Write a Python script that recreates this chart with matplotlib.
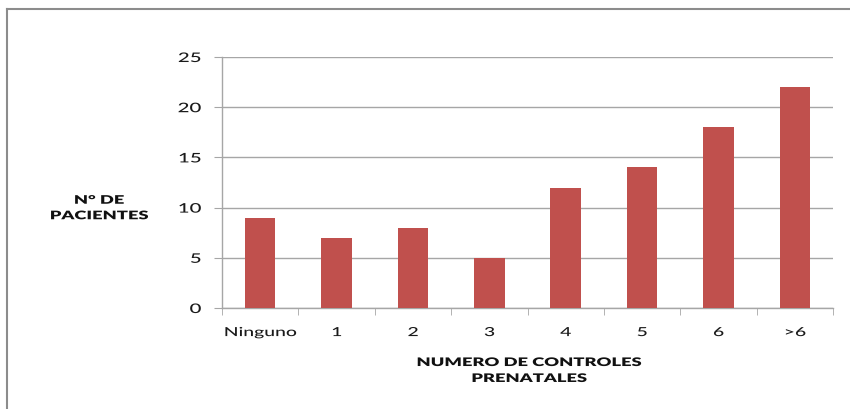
import matplotlib
matplotlib.use("Agg")
import matplotlib.pyplot as plt
from matplotlib.lines import Line2D
from matplotlib.patheffects import AbstractPathEffect
from matplotlib.transforms import Affine2D

categories = ["Ninguno", "1", "2", "3", "4", "5", "6", ">6"]
pacientes = [9, 7, 8, 5, 12, 14, 18, 22]
y_ticks = [0, 5, 10, 15, 20, 25]

bar_color = "#C0504D"
axis_gray = "#A6A6A6"
text_color = "#1A1A1A"
FONT = ["Lato", "DejaVu Sans"]


class HStretch(AbstractPathEffect):
    """Draw text glyphs widened horizontally around a chosen anchor."""

    def __init__(self, sx, anchor="center"):
        super().__init__()
        self.sx = sx
        self.anchor = anchor

    def draw_path(self, renderer, gc, tpath, affine, rgbFace=None):
        verts = tpath.vertices
        if len(verts):
            x0, x1 = verts[:, 0].min(), verts[:, 0].max()
            cx = {"center": (x0 + x1) / 2, "left": x0, "right": x1}[self.anchor]
        else:
            cx = 0.0
        stretch = Affine2D().translate(-cx, 0).scale(self.sx, 1).translate(cx, 0)
        renderer.draw_path(gc, tpath, stretch + affine, rgbFace)


SX = 1.55

fig = plt.figure(figsize=(8.5, 4.09), dpi=100)
ax = fig.add_axes([0.2612, 0.2469, 0.98 - 0.2612, 0.8606 - 0.2469])

x = list(range(len(categories)))
ax.bar(x, pacientes, width=0.4, color=bar_color, zorder=3)

ax.set_xlim(-0.5, len(categories) - 0.5)
ax.set_ylim(0, 25)
ax.set_yticks(y_ticks)
ax.set_xticks(x)
ax.set_xticklabels(categories)
ax.set_xticks([i - 0.5 for i in range(len(categories) + 1)], minor=True)

ax.grid(axis="y", color=axis_gray, linewidth=1.0, zorder=0)
for side in ("top", "right"):
    ax.spines[side].set_visible(False)
for side in ("left", "bottom"):
    ax.spines[side].set_color(axis_gray)
    ax.spines[side].set_linewidth(1.0)

ax.tick_params(axis="x", which="major", length=0, pad=13, labelsize=9, labelcolor=text_color)
ax.tick_params(axis="x", which="minor", length=5, color=axis_gray, direction="out")
ax.tick_params(axis="y", length=6, color=axis_gray, pad=9, labelsize=9.5, labelcolor=text_color)

for lab in ax.get_xticklabels():
    lab.set_family(FONT)
    lab.set_weight("medium")
    lab.set_path_effects([HStretch(SX, "center")])
for lab in ax.get_yticklabels():
    lab.set_family(FONT)
    lab.set_weight("medium")
    lab.set_path_effects([HStretch(SX, "right")])

label_font = dict(family=FONT, weight="heavy", fontsize=8.5, color="#111111")
fig.text(99 / 850, 1 - 208 / 409, "N° DE\nPACIENTES", ha="center", va="center",
         linespacing=1.5, path_effects=[HStretch(SX, "center")], **label_font)
fig.text(529 / 850, 1 - 370.5 / 409, "NUMERO DE CONTROLES\nPRENATALES", ha="center",
         va="center", linespacing=1.55, path_effects=[HStretch(SX, "center")], **label_font)

# outer frame along the top and left edges
frame_color = "#8C8C8C"
fig.add_artist(Line2D([7 / 850, 7 / 850], [0, 1 - 9 / 409], transform=fig.transFigure,
                      color=frame_color, linewidth=1.5))
fig.add_artist(Line2D([7 / 850, 1], [1 - 9 / 409, 1 - 9 / 409], transform=fig.transFigure,
                      color=frame_color, linewidth=1.5))

fig.savefig("out.png", dpi=100)
